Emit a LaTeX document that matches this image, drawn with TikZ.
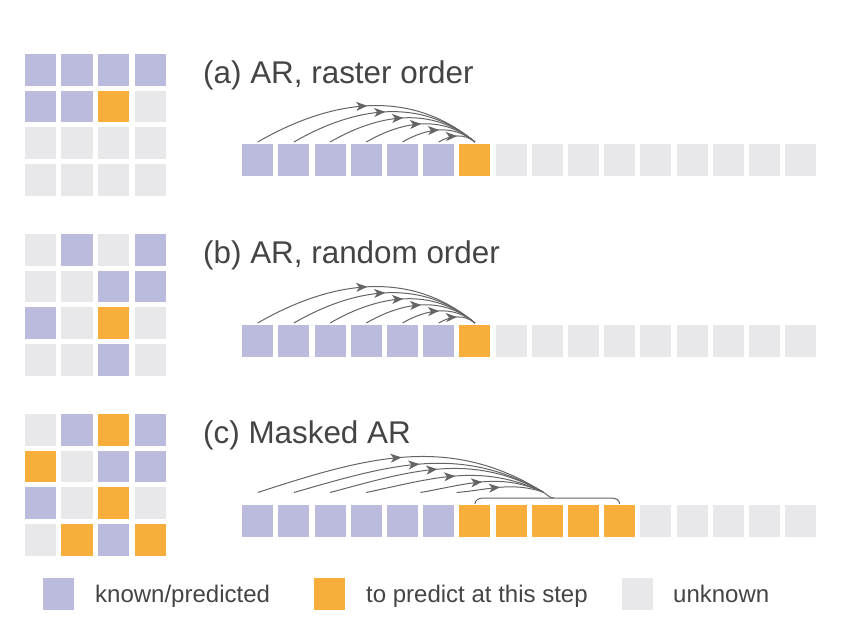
\documentclass[tikz,border=0pt]{standalone}
\usepackage{fontspec}
\setmainfont{Liberation Sans}
\usetikzlibrary{arrows.meta,decorations.markings}
\definecolor{cP}{RGB}{187,187,221}
\definecolor{cO}{RGB}{247,174,59}
\definecolor{cG}{RGB}{232,232,234}
\definecolor{txt}{RGB}{68,68,68}
\definecolor{lnc}{RGB}{100,100,100}
\tikzset{
  cell/.style={draw=none,minimum width=31pt,minimum height=32pt,inner sep=0pt,anchor=north west},
  gcell/.style={draw=none,minimum width=31.5pt,minimum height=31.5pt,inner sep=0pt,anchor=north west},
  conn/.style={draw=lnc,line width=1pt,postaction={decorate},
    decoration={markings,mark=at position 0.5 with {\arrow{Stealth[length=11pt,width=9pt,inset=3pt]}}}},
  plain/.style={draw=lnc,line width=1pt},
  title/.style={anchor=base west,inner sep=0pt,text=txt,font=\fontsize{31.4}{36}\selectfont},
  legtext/.style={anchor=base west,inner sep=0pt,text=txt,font=\fontsize{24}{28}\selectfont}
}
\begin{document}
\begin{tikzpicture}[x=1pt,y=1pt]
\useasboundingbox (0,0) rectangle (844,-632);
% grids
\foreach \lab/\top/\pat in {a/54/{P,P,P,P,P,P,O,G,G,G,G,G,G,G,G,G},
                             b/234/{G,P,G,P,G,G,P,P,P,G,O,G,G,G,P,G},
                             c/414/{G,P,O,P,O,G,P,P,P,G,O,G,G,O,P,O}}{
  \foreach \c [count=\k from 0] in \pat {
    \pgfmathtruncatemacro{\r}{int(\k/4)}
    \pgfmathtruncatemacro{\q}{mod(\k,4)}
    \node[gcell,fill=c\c] (g\lab\k) at (24.5+\q*36.6,-\top-\r*36.6) {};
  }
}
% sequences
\foreach \lab/\top/\pat in {a/144/{P,P,P,P,P,P,O,G,G,G,G,G,G,G,G,G},
                             b/325/{P,P,P,P,P,P,O,G,G,G,G,G,G,G,G,G},
                             c/505/{P,P,P,P,P,P,O,O,O,O,O,G,G,G,G,G}}{
  \foreach \c [count=\k from 0] in \pat {
    \node[cell,fill=c\c] (s\lab\k) at (242+\k*36.2,-\top) {};
  }
}
% titles
\node[title] (ta) at (203,-83) {(a) AR, raster order};
\node[title] (tb) at (203,-263) {(b) AR, random order};
\node[title] (tc) at (203,-443) {(c) Masked AR};
% arcs (a) and (b)
\foreach \lab in {a,b}{
  \foreach \k in {0,...,5}{
    \draw[conn] ([yshift=2pt]s\lab\k.north) to[out=30,in=140] ([yshift=2pt]s\lab6.north);
  }
}
% arcs (c)
\coordinate (tip) at (543,-492);
\foreach \k/\dx/\o/\i in {0/0/18/148,1/0/16/150,2/0/15/151,3/0/12/155,4/18/10/156,5/18/5/162}{
  \draw[conn] ([xshift=\dx pt,yshift=12.5pt]sc\k.north) to[out=\o,in=\i] (tip);
}
\coordinate (bl) at ([yshift=1pt]sc6.north);
\coordinate (br) at ([yshift=1pt]sc10.north);
\draw[plain] (bl) to[out=90,in=180] ([xshift=8pt,yshift=6pt]bl) -- ([xshift=-8pt,yshift=6pt]br) to[out=0,in=90] (br);
\draw[plain] (tip) to[out=-30,in=180] (554,-498);
% legend
\node[cell,fill=cP] (lp) at (43,-578) {};
\node[cell,fill=cO] (lo) at (314,-578) {};
\node[cell,fill=cG] (lg) at (622,-578) {};
\node[legtext] (lpt) at (95,-602.5) {known/predicted};
\node[legtext] (lot) at (366,-602.5) {to predict at this step};
\node[legtext] (lgt) at (673,-602.5) {unknown};
\end{tikzpicture}
\end{document}
